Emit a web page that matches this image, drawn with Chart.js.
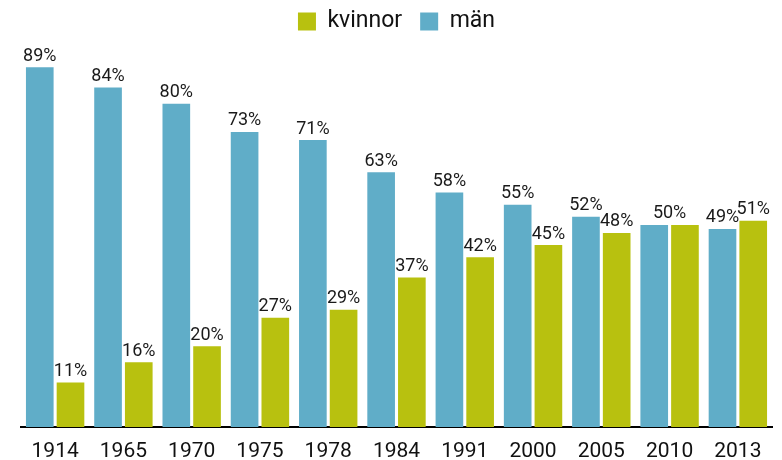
<!DOCTYPE html>
<html>
<head>
<meta charset="utf-8">
<script src="https://cdn.jsdelivr.net/npm/chart.js@4"></script>
<style>
  html, body { margin: 0; padding: 0; background: #fff; }
  #wrap { width: 782px; height: 460px; }
</style>
</head>
<body>
<div id="wrap"><canvas id="c" width="782" height="460"></canvas></div>
<script>
const years = ['1914', '1965', '1970', '1975', '1978', '1984', '1991', '2000', '2005', '2010', '2013'];
const man = [89, 84, 80, 73, 71, 63, 58, 55, 52, 50, 49];
const kvinnor = [11, 16, 20, 27, 29, 37, 42, 45, 48, 50, 51];

const BLUE = '#60adc8';
const GREEN = '#b8c10f';
const FONT = 'Roboto, "DejaVu Sans", sans-serif';

/** Percent labels above each bar; equal pairs get one shared label */
const valueLabels = {
  id: 'valueLabels',
  afterDatasetsDraw(chart) {
    const { ctx } = chart;
    const a = chart.getDatasetMeta(0).data;
    const b = chart.getDatasetMeta(1).data;
    ctx.save();
    ctx.font = '18px ' + FONT;
    ctx.fillStyle = '#1a1a1a';
    ctx.textAlign = 'center';
    ctx.textBaseline = 'bottom';
    years.forEach((_, i) => {
      if (man[i] === kvinnor[i]) {
        ctx.fillText(man[i] + '%', (a[i].x + b[i].x) / 2, a[i].y - 2);
      } else {
        ctx.fillText(man[i] + '%', a[i].x, a[i].y - 2);
        ctx.fillText(kvinnor[i] + '%', b[i].x, b[i].y - 2);
      }
    });
    ctx.restore();
  }
};

new Chart(document.getElementById('c'), {
  type: 'bar',
  data: {
    labels: years,
    datasets: [
      { label: 'män', data: man, backgroundColor: BLUE },
      { label: 'kvinnor', data: kvinnor, backgroundColor: GREEN },
    ],
  },
  options: {
    responsive: false,
    animation: false,
    devicePixelRatio: 1,
    layout: { padding: { left: 21, right: 10, top: -8, bottom: -16 } },
    datasets: { bar: { categoryPercentage: 0.9, barPercentage: 0.9 } },
    plugins: {
      legend: {
        reverse: true,
        labels: {
          boxWidth: 18,
          boxHeight: 18,
          padding: 18,
          color: '#111',
          font: { family: FONT, size: 23 },
        },
      },
      tooltip: { enabled: false },
    },
    scales: {
      x: {
        grid: { display: false, drawTicks: false },
        border: { color: '#000', width: 2 },
        ticks: { color: '#111', font: { family: FONT, size: 21, lineHeight: 1 }, padding: 14 },
      },
      y: {
        display: false,
        min: 0,
        max: 95,
      },
    },
  },
  plugins: [valueLabels],
});
</script>
</body>
</html>
